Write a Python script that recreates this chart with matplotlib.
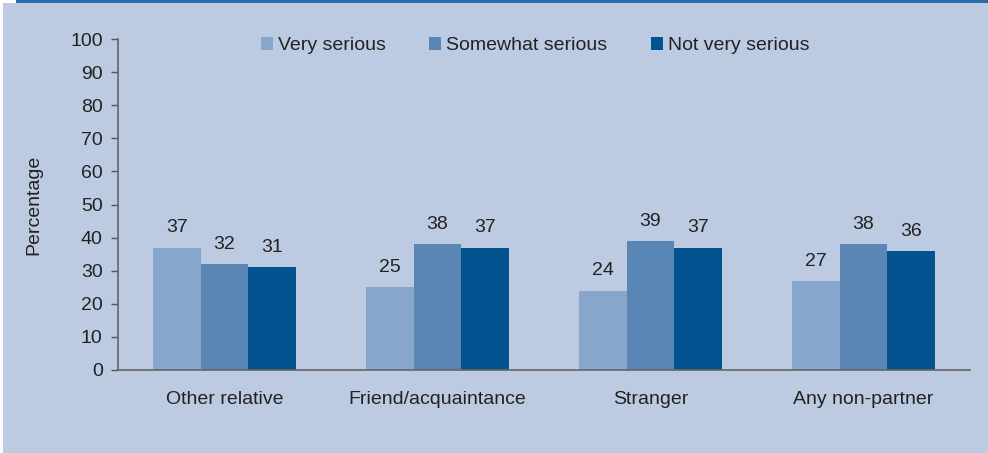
import matplotlib.pyplot as plt
import numpy as np

plt.rcParams['font.family'] = ['Liberation Sans', 'DejaVu Sans']

# Dados
categorias = ['Other relative', 'Friend/acquaintance', 'Stranger', 'Any non-partner']
series = ['Very serious', 'Somewhat serious', 'Not very serious']
very = [37, 25, 24, 27]
somewhat = [32, 38, 39, 38]
not_very = [31, 37, 37, 36]
yticks = [0, 10, 20, 30, 40, 50, 60, 70, 80, 90, 100]

cores = ['#88A6CB', '#5A86B6', '#02538F']
fundo = '#BCCBE2'
fs = 14

fig = plt.figure(figsize=(9.88, 4.53), dpi=100)
fig.patch.set_facecolor('white')
# fundo do quadro e faixa azul no topo
fig.add_artist(plt.Rectangle((3 / 988, 0), 1, 1 - 3 / 453, transform=fig.transFigure,
                             facecolor=fundo, edgecolor='none', zorder=-10))
fig.add_artist(plt.Rectangle((16 / 988, 1 - 3 / 453), 1, 3 / 453, transform=fig.transFigure,
                             facecolor='#2A6CA6', edgecolor='none', zorder=-10))

ax = fig.add_axes([118 / 988, 83 / 453, 852 / 988, 331 / 453])
ax.set_facecolor('none')

x = np.arange(len(categorias))
w = 0.223
for i, (vals, cor, nome) in enumerate(zip([very, somewhat, not_very], cores, series)):
    pos = x + (i - 1) * w
    ax.bar(pos, vals, width=w, color=cor, label=nome, zorder=2)
    for p, v in zip(pos, vals):
        ax.annotate(str(v), (p, v), xytext=(0, 8), textcoords='offset points',
                    ha='center', va='bottom', fontsize=fs, color='#222222')

ax.set_xlim(-0.5, 3.5)
ax.set_ylim(0, 100)
ax.set_yticks(yticks)
ax.set_xticks(x)
ax.set_xticklabels(categorias)
ax.tick_params(axis='x', length=0, pad=15, labelsize=fs, colors='#222222')
ax.tick_params(axis='y', length=5, width=1, color='#555555', labelsize=fs, labelcolor='#222222', pad=6)
for s in ['top', 'right']:
    ax.spines[s].set_visible(False)
for s in ['left', 'bottom']:
    ax.spines[s].set_color('#666666')
    ax.spines[s].set_linewidth(1.2)
ax.set_ylabel('Percentage', fontsize=fs, color='#222222', labelpad=20)

ax.legend(loc='center', bbox_to_anchor=(0.4894, 0.98), ncol=3, frameon=False, fontsize=fs,
          handlelength=0.62, handleheight=0.62, handletextpad=0.25, columnspacing=2.25,
          labelcolor='#222222')

plt.savefig('out.png', dpi=100)
